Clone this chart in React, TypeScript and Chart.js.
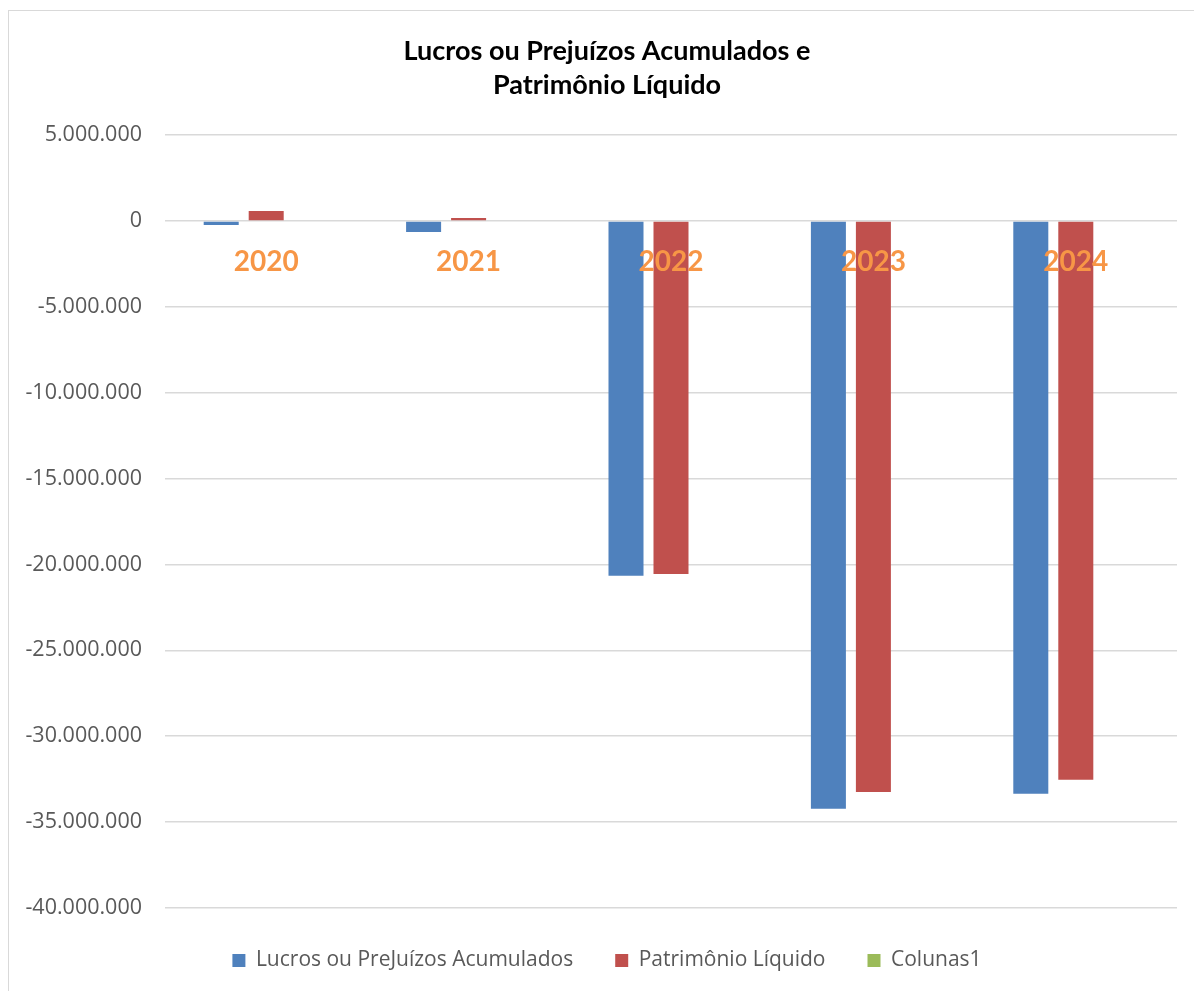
import React, { useEffect, useRef } from "react";
import { Chart, registerables } from "chart.js";

Chart.register(...registerables);

const titleLines = ["Lucros ou Prejuízos Acumulados e", "Patrimônio Líquido"];
const categories = ["2020", "2021", "2022", "2023", "2024"];
const lucrosLabel = "Lucros ou PreJuízos Acumulados";
const lucros = [-230000, -640000, -20660000, -34220000, -33350000];
const patrimonioLabel = "Patrimônio Líquido";
const patrimonio = [580000, 170000, -20550000, -33240000, -32540000];
const colunasLabel = "Colunas1";
const colunas = [null, null, null, null, null];
const yMin = -40000000;
const yMax = 5000000;
const yStep = 5000000;

function fmt(v: number): string {
  const neg = v < 0;
  const s = Math.abs(Math.round(v)).toString().replace(/\B(?=(\d{3})+(?!\d))/g, ".");
  return (neg ? "-" : "") + s;
}

export default function App() {
  const ref = useRef<HTMLCanvasElement | null>(null);
  useEffect(() => {
    if (!ref.current) return;
    const chart = new Chart(ref.current, {
      type: "bar",
      data: {
        labels: categories,
        datasets: [
          { label: lucrosLabel, data: lucros, backgroundColor: "#4F81BD", borderWidth: 0 },
          { label: patrimonioLabel, data: patrimonio, backgroundColor: "#C0504D", borderWidth: 0 },
          { label: colunasLabel, data: colunas as any, backgroundColor: "#9BBB59", borderWidth: 0 },
        ],
      },
      options: {
        animation: false,
        responsive: false,
        devicePixelRatio: 1,
        layout: { padding: { left: 0, right: 0, top: 0, bottom: 15 } },
        datasets: { bar: { categoryPercentage: 0.667, barPercentage: 0.778 } },
        plugins: {
          tooltip: { enabled: false },
          title: {
            display: true,
            text: titleLines,
            color: "#000000",
            font: { family: "Lato", weight: "bold", size: 27, lineHeight: 1.26 },
            padding: { top: 23, bottom: 33 },
          },
          legend: {
            position: "bottom",
            labels: {
              boxWidth: 13,
              boxHeight: 13,
              padding: 42,
              color: "#595959",
              font: { family: "Open Sans", size: 21 },
            },
          },
        },
        scales: {
          x: {
            position: { y: 0 } as any,
            grid: { display: false },
            border: { display: false },
            ticks: {
              z: 1,
              color: "#F79646",
              font: { family: "Lato", weight: "bold", size: 28 },
              padding: 16,
              maxRotation: 0,
            },
          },
          y: {
            min: yMin,
            max: yMax,
            afterFit: (scale: any) => {
              scale.width = 156;
            },
            grid: { color: "#d9d9d9", lineWidth: 1.5, drawTicks: false },
            border: { display: false },
            ticks: {
              stepSize: yStep,
              padding: 23,
              color: "#595959",
              font: { family: "Open Sans", size: 21.5 },
              callback: (v: any) => fmt(Number(v)),
            },
          },
          yRight: {
            type: "linear",
            position: "right",
            grid: { display: false, drawTicks: false },
            border: { display: false },
            ticks: { display: false },
            afterFit: (scale: any) => {
              scale.width = 28;
            },
          },
        },
      },
    });
    return () => chart.destroy();
  }, []);

  return (
    <div style={{ position: "fixed", left: 0, top: 0, width: 1194, height: 991, overflow: "hidden", background: "#fff" }}>
      <div style={{ position: "absolute", left: 8, top: 10, width: 1196, height: 985, border: "1px solid #d9d9d9", background: "#fff" }}>
        <canvas ref={ref} width={1196} height={985} style={{ display: "block", width: 1196, height: 985 }} />
      </div>
    </div>
  );
}
